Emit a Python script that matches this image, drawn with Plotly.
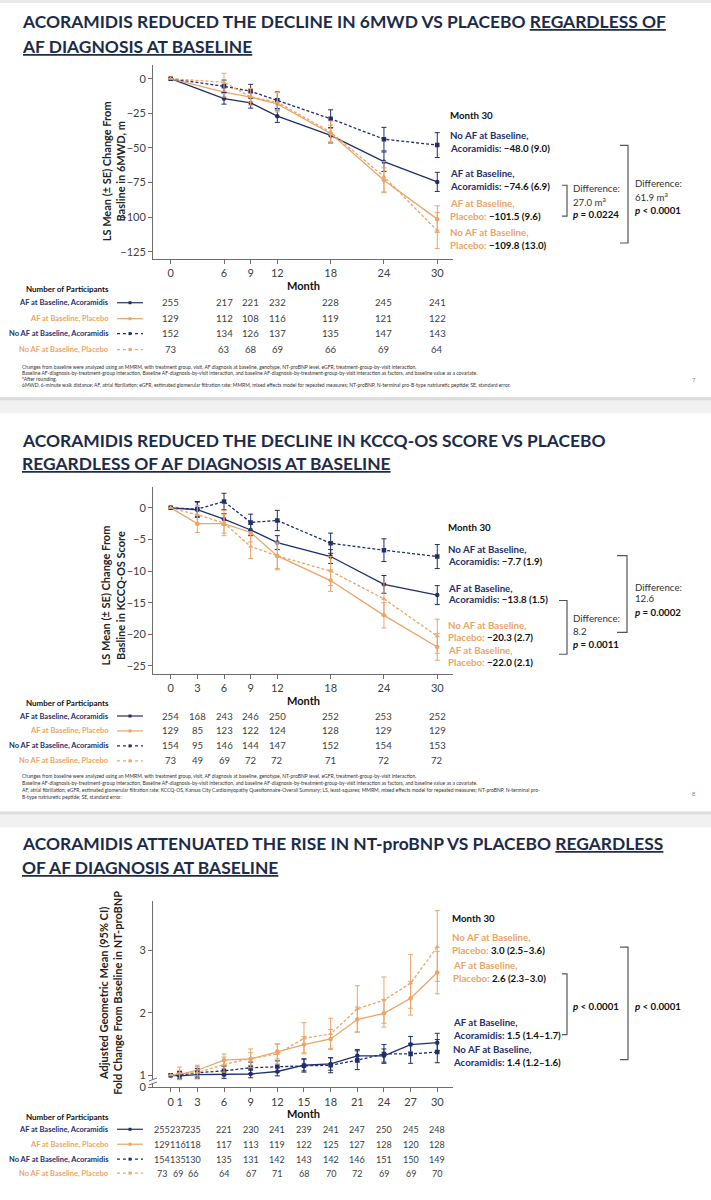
import plotly.graph_objects as go

W, H = 711, 1200
NAVY = "#1f2f6b"
ORANGE = "#eba567"
TITLE_C = "#1c2b48"
AXC = "#6d6d6d"
TXT = "#404040"
FONT = "Lato"

# ---------------- data: 6MWD ----------------
months1 = [0, 6, 9, 12, 18, 24, 30]
mwd_af_aco = [0, -14.4, -17.5, -27.1, -41.0, -60.0, -74.6]
mwd_af_aco_se = [0, 4.0, 3.8, 4.5, 5.5, 7.0, 6.9]
mwd_af_pla = [0, -9.8, -13.4, -18.2, -39.6, -73.4, -101.5]
mwd_af_pla_se = [0, 3.5, 3.5, 4.0, 6.0, 9.0, 9.6]
mwd_noaf_aco = [0, -5.5, -9.1, -15.6, -29.0, -43.7, -48.0]
mwd_noaf_aco_se = [0, 4.5, 5.0, 6.0, 6.5, 8.5, 9.0]
mwd_noaf_pla = [0, -2.6, -13.2, -17.0, -38.6, -70.8, -109.8]
mwd_noaf_pla_se = [0, 6.5, 6.0, 7.0, 8.0, 11.0, 13.0]
n1_af_aco = [255, 217, 221, 232, 228, 245, 241]
n1_af_pla = [129, 112, 108, 116, 119, 121, 122]
n1_noaf_aco = [152, 134, 126, 137, 135, 147, 143]
n1_noaf_pla = [73, 63, 68, 69, 66, 69, 64]

# ---------------- data: KCCQ-OS ----------------
months2 = [0, 3, 6, 9, 12, 18, 24, 30]
kc_af_aco = [0, -0.3, -1.8, -3.5, -5.5, -7.7, -12.1, -13.8]
kc_af_aco_se = [0, 1.2, 0.9, 0.9, 1.1, 1.1, 1.4, 1.5]
kc_af_pla = [0, -2.5, -2.5, -3.9, -7.6, -11.5, -17.0, -22.0]
kc_af_pla_se = [0, 1.4, 1.5, 1.5, 2.0, 1.7, 2.0, 2.1]
kc_noaf_aco = [0, -0.2, 1.0, -2.3, -2.0, -5.6, -6.7, -7.7]
kc_noaf_aco_se = [0, 1.2, 1.3, 1.3, 1.6, 1.6, 1.8, 1.9]
kc_noaf_pla = [0, -1.1, -2.4, -6.1, -7.6, -10.0, -14.4, -20.3]
kc_noaf_pla_se = [0, 1.5, 2.0, 1.9, 2.2, 2.3, 2.6, 2.7]
n2_af_aco = [254, 168, 243, 246, 250, 252, 253, 252]
n2_af_pla = [129, 85, 123, 122, 124, 128, 129, 129]
n2_noaf_aco = [154, 95, 146, 144, 147, 152, 154, 153]
n2_noaf_pla = [73, 49, 69, 72, 72, 71, 72, 72]

# ---------------- data: NT-proBNP ----------------
months3 = [0, 1, 3, 6, 9, 12, 15, 18, 21, 24, 27, 30]
nt_af_aco = [1.0, 0.99, 1.01, 1.01, 1.02, 1.06, 1.16, 1.18, 1.31, 1.31, 1.49, 1.52]
nt_af_aco_lo = [1.0, 0.94, 0.95, 0.95, 0.96, 0.99, 1.07, 1.08, 1.21, 1.21, 1.37, 1.39]
nt_af_aco_hi = [1.0, 1.04, 1.07, 1.07, 1.08, 1.13, 1.26, 1.28, 1.41, 1.42, 1.62, 1.67]
nt_af_pla = [1.0, 1.01, 1.08, 1.24, 1.26, 1.38, 1.49, 1.58, 1.89, 1.99, 2.23, 2.64]
nt_af_pla_lo = [1.0, 0.94, 1.00, 1.14, 1.16, 1.26, 1.36, 1.43, 1.69, 1.77, 1.96, 2.30]
nt_af_pla_hi = [1.0, 1.08, 1.16, 1.34, 1.36, 1.50, 1.62, 1.73, 2.09, 2.21, 2.50, 2.98]
nt_noaf_aco = [1.0, 1.0, 1.04, 1.07, 1.12, 1.14, 1.15, 1.16, 1.24, 1.34, 1.34, 1.37]
nt_noaf_aco_lo = [1.0, 0.94, 0.97, 0.99, 1.03, 1.05, 1.05, 1.04, 1.09, 1.19, 1.19, 1.20]
nt_noaf_aco_hi = [1.0, 1.06, 1.11, 1.15, 1.21, 1.23, 1.26, 1.28, 1.39, 1.49, 1.51, 1.57]
nt_noaf_pla = [1.0, 1.03, 1.04, 1.17, 1.27, 1.34, 1.59, 1.66, 2.06, 2.20, 2.47, 3.05]
nt_noaf_pla_lo = [1.0, 0.93, 0.94, 1.05, 1.12, 1.18, 1.34, 1.41, 1.69, 1.83, 2.07, 2.50]
nt_noaf_pla_hi = [1.0, 1.13, 1.14, 1.29, 1.42, 1.50, 1.84, 1.91, 2.43, 2.57, 2.93, 3.63]
n3_af_aco = [255, 237, 235, 221, 230, 241, 239, 241, 247, 250, 245, 248]
n3_af_pla = [129, 116, 118, 117, 113, 119, 122, 125, 127, 128, 120, 128]
n3_noaf_aco = [154, 135, 130, 135, 131, 142, 143, 142, 146, 151, 150, 149]
n3_noaf_pla = [73, 69, 66, 64, 67, 71, 68, 70, 72, 69, 69, 70]

group_names = ["AF at Baseline, Acoramidis", "AF at Baseline, Placebo",
               "No AF at Baseline, Acoramidis", "No AF at Baseline, Placebo"]

titles = [
    ("ACORAMIDIS REDUCED THE DECLINE IN 6MWD VS PLACEBO <u>REGARDLESS OF</u>",
     "<u>AF DIAGNOSIS AT BASELINE</u>"),
    ("ACORAMIDIS REDUCED THE DECLINE IN KCCQ-OS SCORE VS PLACEBO",
     "<u>REGARDLESS OF AF DIAGNOSIS AT BASELINE</u>"),
    ("ACORAMIDIS ATTENUATED THE RISE IN NT-proBNP VS PLACEBO <u>REGARDLESS</u>",
     "<u>OF AF DIAGNOSIS AT BASELINE</u>"),
]
ytitles = ["LS Mean (± SE) Change From<br>Basline in 6MWD, m",
           "LS Mean (± SE) Change From<br>Basline in KCCQ-OS Score",
           "Adjusted Geometric Mean (95% CI)<br>Fold Change From Baseline in NT-proBNP"]

foot1 = [
    "Changes from baseline were analyzed using an MMRM, with treatment group, visit, AF diagnosis at baseline, genotype, NT-proBNP level, eGFR, treatment-group-by-visit interaction,",
    "Baseline AF-diagnosis-by-treatment-group interaction, Baseline AF-diagnosis-by-visit interaction, and baseline AF-diagnosis-by-treatment-group-by-visit interaction as factors, and baseline value as a covariate.",
    "<sup>a</sup>After rounding.",
    "6MWD, 6-minute walk distance; AF, atrial fibrillation; eGFR, estimated glomerular filtration rate; MMRM, mixed effects model for repeated measures; NT-proBNP, N-terminal pro-B-type natriuretic peptide; SE, standard error.",
]
foot2 = [
    "Changes from baseline were analyzed using an MMRM, with treatment group, visit, AF diagnosis at baseline, genotype, NT-proBNP level, eGFR, treatment-group-by-visit interaction,",
    "Baseline AF-diagnosis-by-treatment-group interaction, Baseline AF-diagnosis-by-visit interaction, and baseline AF-diagnosis-by-treatment-group-by-visit interaction as factors, and baseline value as a covariate.",
    "AF, atrial fibrillation; eGFR, estimated glomerular filtration rate; KCCQ-OS, Kansas City Cardiomyopathy Questionnaire-Overall Summary; LS, least-squares; MMRM, mixed effects model for repeated measures; NT-proBNP, N-terminal pro-",
    "B-type natriuretic peptide; SE, standard error.",
]


def PX(x):
    return x / W


def PY(y):
    return 1 - y / H


fig = go.Figure()
ann = []
shp = []

# axis geometry (pixel positions)
X0, X1 = 153, 453
XR = [-1.99, 31.77]
charts = [
    dict(top=65, bot=260, yr=[-130.25, 10.07], tv=[0, -25, -50, -75, -100, -125], tt=None, months=months1),
    dict(top=489, bot=677, yr=[-26.3, 3.3], tv=[0, -5, -10, -15, -20, -25], tt=None, months=months2),
    dict(top=905, bot=1092, yr=[0.805, 3.78], tv=[0.812, 1, 2, 3], tt=["0", "1", "2", "3"], months=months3),
]

styles = [
    dict(color=NAVY, dash="solid", symbol="circle"),
    dict(color=ORANGE, dash="solid", symbol="circle"),
    dict(color=NAVY, dash="3px,2px", symbol="square"),
    dict(color=ORANGE, dash="3px,2px", symbol="triangle-up"),
]


def add_series(k, x, y, plus, minus, st):
    xa = "x" if k == 0 else f"x{k+1}"
    ya = "y" if k == 0 else f"y{k+1}"
    fig.add_trace(go.Scatter(
        x=x, y=y, mode="lines+markers", xaxis=xa, yaxis=ya,
        line=dict(color=st["color"], width=1.3, dash=st["dash"]),
        marker=dict(color=st["color"], size=4.5, symbol=st["symbol"]),
        error_y=dict(type="data", symmetric=False, array=plus, arrayminus=minus,
                     color=st["color"], thickness=1, width=2.5),
        showlegend=False, hoverinfo="skip"))


c1 = [(mwd_af_aco, mwd_af_aco_se), (mwd_af_pla, mwd_af_pla_se),
      (mwd_noaf_aco, mwd_noaf_aco_se), (mwd_noaf_pla, mwd_noaf_pla_se)]
for i, (v, se) in enumerate(c1):
    add_series(0, months1, v, se, se, styles[i])
c2 = [(kc_af_aco, kc_af_aco_se), (kc_af_pla, kc_af_pla_se),
      (kc_noaf_aco, kc_noaf_aco_se), (kc_noaf_pla, kc_noaf_pla_se)]
for i, (v, se) in enumerate(c2):
    add_series(1, months2, v, se, se, styles[i])
c3 = [(nt_af_aco, nt_af_aco_lo, nt_af_aco_hi), (nt_af_pla, nt_af_pla_lo, nt_af_pla_hi),
      (nt_noaf_aco, nt_noaf_aco_lo, nt_noaf_aco_hi), (nt_noaf_pla, nt_noaf_pla_lo, nt_noaf_pla_hi)]
for i, (v, lo, hi) in enumerate(c3):
    add_series(2, months3, v, [h - m for h, m in zip(hi, v)], [m - l for m, l in zip(v, lo)], styles[i])

layout_axes = {}
for k, c in enumerate(charts):
    sx = "xaxis" if k == 0 else f"xaxis{k+1}"
    sy = "yaxis" if k == 0 else f"yaxis{k+1}"
    ya = "y" if k == 0 else f"y{k+1}"
    xa = "x" if k == 0 else f"x{k+1}"
    layout_axes[sx] = dict(domain=[PX(X0), PX(X1)], range=XR, anchor=ya,
                           tickvals=c["months"], showgrid=False, zeroline=False,
                           showline=True, linecolor=AXC, linewidth=1,
                           ticks="outside", ticklen=4, tickcolor=AXC,
                           tickfont=dict(family=FONT, size=11, color=TXT))
    ydict = dict(domain=[PY(c["bot"]), PY(c["top"])], range=c["yr"], anchor=xa,
                 tickvals=c["tv"], showgrid=False, zeroline=False,
                 showline=True, linecolor=AXC, linewidth=1,
                 ticks="outside", ticklen=4, tickcolor=AXC,
                 tickfont=dict(family=FONT, size=11, color=TXT))
    if c["tt"]:
        ydict["ticktext"] = c["tt"]
    layout_axes[sy] = ydict

# ---------- slide titles ----------
title_y = [(22, 47), (442, 465), (847, 871)]
for (l1, l2), (y1, y2) in zip(titles, title_y):
    for t, yy in ((l1, y1), (l2, y2)):
        ann.append(dict(x=PX(20), y=PY(yy), xref="paper", yref="paper", xanchor="left",
                        yanchor="middle", showarrow=False, text=f"<b>{t}</b>",
                        font=dict(family=FONT, size=17.4, color=TITLE_C)))

# ---------- y-axis titles ----------
ytc = [(113, 172), (113, 598), (111, 997)]
for t, (xx, yy) in zip(ytitles, ytc):
    ann.append(dict(x=PX(xx), y=PY(yy), xref="paper", yref="paper", xanchor="center",
                    yanchor="middle", showarrow=False, textangle=-90, text=f"<b>{t}</b>",
                    font=dict(family=FONT, size=11, color="#222222")))

# ---------- "Month" + participant tables ----------
tables = [
    (months1, [n1_af_aco, n1_af_pla, n1_noaf_aco, n1_noaf_pla], 287, [304, 320, 335, 351], 290, {}, 9.6),
    (months2, [n2_af_aco, n2_af_pla, n2_noaf_aco, n2_noaf_pla], 703, [719, 734, 749, 764], 706, {}, 9.6),
    (months3, [n3_af_aco, n3_af_pla, n3_noaf_aco, n3_noaf_pla], 1118, [1134, 1149, 1164, 1178], 1122,
     {0: -9, 1: -2, 2: -4}, 9.0),
]
for k, (ms, rows, ymonth, yrows, ynum, shifts, fs) in enumerate(tables):
    xa = "x" if k == 0 else f"x{k+1}"
    ann.append(dict(x=15, y=PY(ymonth), xref=xa, yref="paper", xanchor="center", yanchor="middle",
                    showarrow=False, text="<b>Month</b>", font=dict(family=FONT, size=11, color="#111111")))
    ann.append(dict(x=PX(111), y=PY(ynum), xref="paper", yref="paper", xanchor="right", yanchor="middle",
                    showarrow=False, text="<b>Number of Participants</b>",
                    font=dict(family=FONT, size=8, color="#111111")))
    for r, (vals, yy) in enumerate(zip(rows, yrows)):
        st = styles[r]
        ann.append(dict(x=PX(111), y=PY(yy), xref="paper", yref="paper", xanchor="right", yanchor="middle",
                        showarrow=False, text=f"<b>{group_names[r]}</b>",
                        font=dict(family=FONT, size=7.5, color=st["color"])))
        dash = "solid" if st["dash"] == "solid" else "dot"
        shp.append(dict(type="line", xref="paper", yref="paper", x0=PX(117), x1=PX(143),
                        y0=PY(yy), y1=PY(yy), line=dict(color=st["color"], width=1.2, dash=dash)))
        shp.append(dict(type="rect", xref="paper", yref="paper", x0=PX(128.5), x1=PX(131.5),
                        y0=PY(yy + 1.5), y1=PY(yy - 1.5), line=dict(width=0), fillcolor=st["color"]))
        for j, (m, v) in enumerate(zip(ms, vals)):
            ann.append(dict(x=m, y=PY(yy), xref=xa, yref="paper", xanchor="center", yanchor="middle",
                            xshift=shifts.get(j, 0), showarrow=False, text=str(v),
                            font=dict(family=FONT, size=fs, color=TXT)))

# ---------- footnotes ----------
for lines, ys in ((foot1, [369, 375, 381, 387]), (foot2, [779, 786, 793, 800])):
    for t, yy in zip(lines, ys):
        ann.append(dict(x=PX(20), y=PY(yy), xref="paper", yref="paper", xanchor="left", yanchor="middle",
                        showarrow=False, text=t, font=dict(family=FONT, size=5, color="#333333")))
for t, yy in (("7", 381), ("8", 797)):
    ann.append(dict(x=PX(694), y=PY(yy), xref="paper", yref="paper", xanchor="center", yanchor="middle",
                    showarrow=False, text=t, font=dict(family=FONT, size=6, color="#888888")))


# ---------- right-side Month 30 labels ----------
def mlabel(x, y, text, color=NAVY, size=9.7):
    ann.append(dict(x=PX(x), y=PY(y), xref="paper", yref="paper", xanchor="left", yanchor="middle",
                    showarrow=False, text=text, font=dict(family=FONT, size=size, color=color)))


def two(x, y1, y2, l1, l2, val, color):
    mlabel(x, y1, f"<b>{l1}</b>", color)
    mlabel(x, y2, f"<b>{l2} <span style='color:#111111'>{val}</span></b>", color)


def fmt(v):
    return ("\u2212" if v < 0 else "") + f"{abs(v):.1f}"


# chart 1
mlabel(448, 115, "<b>Month 30</b>", "#111111")
two(448, 136, 149, "No AF at Baseline,", "Acoramidis:", f"{fmt(mwd_noaf_aco[-1])} ({mwd_noaf_aco_se[-1]:.1f})", NAVY)
two(448, 174, 187, "AF at Baseline,", "Acoramidis:", f"{fmt(mwd_af_aco[-1])} ({mwd_af_aco_se[-1]:.1f})", NAVY)
two(448, 204, 217, "AF at Baseline,", "Placebo:", f"{fmt(mwd_af_pla[-1])} ({mwd_af_pla_se[-1]:.1f})", ORANGE)
two(448, 233, 246, "No AF at Baseline,", "Placebo:", f"{fmt(mwd_noaf_pla[-1])} ({mwd_noaf_pla_se[-1]:.1f})", ORANGE)
mlabel(571, 189, "Difference:", "#333333")
mlabel(571, 202, "27.0 m<sup>a</sup>", "#333333")
mlabel(571, 215, "<b><i>p</i> = 0.0224</b>", "#111111")
mlabel(633, 184, "Difference:", "#333333")
mlabel(633, 197, "61.9 m<sup>a</sup>", "#333333")
mlabel(633, 211, "<b><i>p</i> &lt; 0.0001</b>", "#111111")

# chart 2
mlabel(446, 529, "<b>Month 30</b>", "#111111")
two(446, 551, 563, "No AF at Baseline,", "Acoramidis:", f"{fmt(kc_noaf_aco[-1])} ({kc_noaf_aco_se[-1]:.1f})", NAVY)
two(446, 590, 602, "AF at Baseline,", "Acoramidis:", f"{fmt(kc_af_aco[-1])} ({kc_af_aco_se[-1]:.1f})", NAVY)
two(446, 628, 640, "No AF at Baseline,", "Placebo:", f"{fmt(kc_noaf_pla[-1])} ({kc_noaf_pla_se[-1]:.1f})", ORANGE)
two(446, 653, 665, "AF at Baseline,", "Placebo:", f"{fmt(kc_af_pla[-1])} ({kc_af_pla_se[-1]:.1f})", ORANGE)
mlabel(571, 621, "Difference:", "#333333")
mlabel(571, 634, "8.2", "#333333")
mlabel(571, 647, "<b><i>p</i> = 0.0011</b>", "#111111")
mlabel(633, 589, "Difference:", "#333333")
mlabel(633, 601, "12.6", "#333333")
mlabel(633, 615, "<b><i>p</i> = 0.0002</b>", "#111111")

# chart 3
mlabel(450, 922, "<b>Month 30</b>", "#111111")
two(450, 941, 954, "No AF at Baseline,", "Placebo:", "3.0 (2.5\u20133.6)", ORANGE)
two(451, 969, 982, "AF at Baseline,", "Placebo:", "2.6 (2.3\u20133.0)", ORANGE)
two(451, 1026, 1039, "AF at Baseline,", "Acoramidis:", "1.5 (1.4\u20131.7)", NAVY)
two(451, 1053, 1066, "No AF at Baseline,", "Acoramidis:", "1.4 (1.2\u20131.6)", NAVY)
mlabel(571, 1010, "<b><i>p</i> &lt; 0.0001</b>", "#111111")
mlabel(633, 1010, "<b><i>p</i> &lt; 0.0001</b>", "#111111")


# ---------- brackets ----------
def bracket(x0, x1, y0, y1):
    p = f"M {PX(x0)} {PY(y0)} L {PX(x1)} {PY(y0)} L {PX(x1)} {PY(y1)} L {PX(x0)} {PY(y1)}"
    shp.append(dict(type="path", xref="paper", yref="paper", path=p,
                    line=dict(color="#555555", width=1.2)))


bracket(562, 567, 186, 217)
bracket(620, 628, 146, 244)
bracket(559, 567, 603, 657)
bracket(617, 627, 558, 635)
bracket(562, 567, 978, 1039)
bracket(620, 628, 951, 1064)

# ---------- axis break on chart 3 ----------
shp.append(dict(type="rect", xref="paper", yref="paper", x0=PX(150), x1=PX(156), y0=PY(1088), y1=PY(1084),
                fillcolor="white", line=dict(width=0)))
for yy in (1088, 1084):
    shp.append(dict(type="line", xref="paper", yref="paper", x0=PX(149), x1=PX(157), y0=PY(yy + 1.5), y1=PY(yy - 1.5),
                    line=dict(color=AXC, width=1)))

# ---------- slide separators ----------
shp.append(dict(type="rect", xref="paper", yref="paper", x0=0, x1=1, y0=PY(3), y1=1,
                fillcolor="#e9e9e9", line=dict(width=0), layer="below"))
for top, bot in ((399, 415), (815, 831)):
    shp.append(dict(type="rect", xref="paper", yref="paper", x0=0, x1=1, y0=PY(bot), y1=PY(top),
                    fillcolor="#f1f1f1", line=dict(width=0), layer="below"))
    shp.append(dict(type="rect", xref="paper", yref="paper", x0=0, x1=1, y0=PY(top + 3), y1=PY(top),
                    fillcolor="#dcdcdc", line=dict(width=0), layer="below"))

fig.update_layout(width=W, height=H, margin=dict(l=0, r=0, t=0, b=0),
                  paper_bgcolor="white", plot_bgcolor="rgba(0,0,0,0)",
                  annotations=ann, shapes=shp, showlegend=False,
                  font=dict(family=FONT), **layout_axes)
fig.write_html("out.html",
               config={"displayModeBar": False, "displaylogo": False, "staticPlot": True},
               post_script="document.body.style.margin='0';document.body.style.overflow='hidden';")
